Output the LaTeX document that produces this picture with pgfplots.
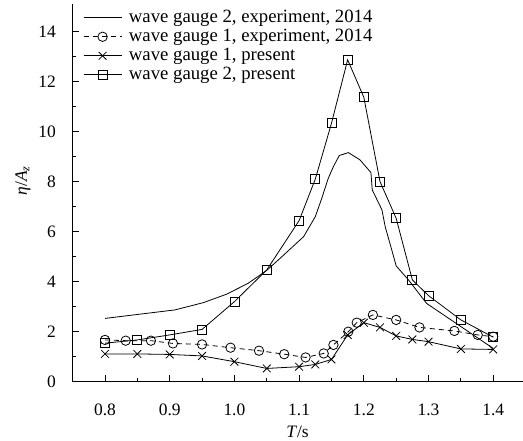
\documentclass[border=0pt]{standalone}
\usepackage{fontspec}
\setmainfont{Liberation Serif}
\usepackage{pgfplots}
\pgfplotsset{compat=1.18}
\newcommand{\ff}{\fontsize{17.5}{20}\selectfont}
\newcommand{\lf}{\fontsize{18.8}{21}\selectfont}
\begin{document}
\ff
\begin{tikzpicture}
\begin{axis}[
  scale only axis,
  width=451bp, height=377.7bp,
  xmin=0.749, xmax=1.446,
  ymin=0, ymax=15.1,
  axis x line=bottom, axis y line=left,
  axis line style={-, line width=0.8pt},
  tick align=inside,
  major tick length=7bp, minor tick length=4bp,
  every tick/.style={black, line width=0.8pt},
  xtick={0.8,0.9,...,1.41},
  minor xtick={0.85,0.95,...,1.36},
  ytick={0,2,...,14},
  minor ytick={1,3,...,13},
  xticklabels={0.8,0.9,1.0,1.1,1.2,1.3,1.4},
  /pgf/number format/assume math mode=true,
  ticklabel style={font=\ff},
  xticklabel style={anchor=center, yshift=-28bp},
  yticklabel style={anchor=east, inner sep=0pt, xshift=-16bp},
  xlabel={\textit{T}/s},
  ylabel={\textit{η}/\textit{A}\textsubscript{\textit{z}}},
  label style={font=\ff},
  xlabel style={at={(axis description cs:0.5,0)}, anchor=center, yshift=-50bp},
  ylabel style={at={(axis description cs:-0.1086,0.532)}, anchor=center},
  legend style={at={(rel axis cs:0,1)}, anchor=north west, xshift=8bp, yshift=-2bp, draw=none, fill=none,
    font=\lf, row sep=0bp, cells={anchor=west},
    /tikz/every odd column/.append style={column sep=5bp}},
  legend image code/.code={\draw[mark repeat=2,mark phase=2,#1] plot coordinates {(0bp,0bp) (19bp,0bp) (38bp,0bp)};},
  every axis plot/.append style={line width=0.8pt, black},
]
% wave gauge 2, experiment
\addplot[no marks] coordinates {
(0.8,2.53) (0.908,2.87) (0.952,3.16) (0.988,3.5) (1.021,3.93) (1.05,4.45) (1.0705,4.93)
(1.107,5.8) (1.125,6.6) (1.135,7.33) (1.145,8.13) (1.153,8.6) (1.162,9.04) (1.176,9.16)
(1.194,8.87) (1.211,8.36) (1.213,7.67) (1.228,6.87) (1.233,6.2) (1.241,5.47) (1.25,4.63)
(1.269,4.07) (1.297,3.13) (1.4,1.33)};
\addlegendentry{wave gauge 2, experiment, 2014}
% wave gauge 1, experiment
\addplot[dash pattern=on 5bp off 4bp, mark=o, mark size=4.7bp, mark options={solid, fill=white}] coordinates {
(0.8,1.67) (0.832,1.64) (0.871,1.64) (0.905,1.53) (0.95,1.49) (0.994,1.36) (1.038,1.24)
(1.077,1.1) (1.110,0.97) (1.138,1.13) (1.153,1.47) (1.176,2.0) (1.189,2.36) (1.214,2.67)
(1.25,2.47) (1.286,2.17) (1.34,2.03) (1.376,1.87) (1.4,1.8)};
\addlegendentry{wave gauge 1, experiment, 2014}
% wave gauge 1, present
\addplot[mark=x, mark size=5.5bp] coordinates {
(0.8,1.11) (0.85,1.11) (0.9,1.09) (0.95,1.03) (1.0,0.8) (1.05,0.53) (1.1,0.6) (1.125,0.69)
(1.15,0.89) (1.175,1.87) (1.2,2.36) (1.225,2.17) (1.25,1.83) (1.275,1.69) (1.3,1.6)
(1.35,1.31) (1.4,1.29)};
\addlegendentry{wave gauge 1, present}
% wave gauge 2, present
\addplot[mark=square, mark size=4.5bp, mark options={fill=white}] coordinates {
(0.8,1.54) (0.85,1.67) (0.9,1.87) (0.95,2.09) (1.0,3.2) (1.05,4.47) (1.1,6.44) (1.125,8.1)
(1.15,10.33) (1.175,12.87) (1.2,11.37) (1.225,8.0) (1.25,6.53) (1.275,4.07) (1.3,3.44)
(1.35,2.47) (1.4,1.78)};
\addlegendentry{wave gauge 2, present}
\end{axis}
\path (current axis.south west) ++(-72bp,-59.3bp) coordinate (bbA);
\path (current axis.north east) ++(0bp,4bp) coordinate (bbB);
\pgfresetboundingbox
\path[use as bounding box] (bbA) rectangle (bbB);
\end{tikzpicture}
\end{document}
